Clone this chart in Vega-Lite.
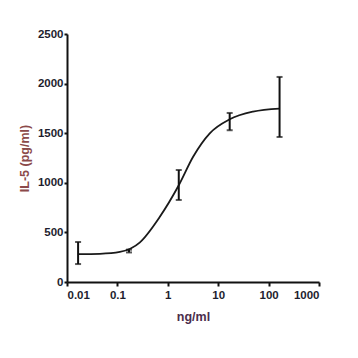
{
  "$schema": "https://vega.github.io/schema/vega-lite/v6.json",
  "width": 252,
  "height": 248,
  "autosize": {"type": "none"},
  "padding": {"left": 67, "top": 34, "right": 39, "bottom": 76},
  "background": "white",
  "datasets": {
    "points": [
      {"conc": 0.0166, "mean": 278, "lo": 181, "hi": 403},
      {"conc": 0.17, "mean": 312, "lo": 298, "hi": 326},
      {"conc": 1.65, "mean": 978, "lo": 827, "hi": 1129},
      {"conc": 16.9, "mean": 1633, "lo": 1530, "hi": 1704},
      {"conc": 165, "mean": 1748, "lo": 1462, "hi": 2067}
    ],
    "curve": [
      {"conc": 0.0166, "fit": 280},
      {"conc": 0.045, "fit": 284},
      {"conc": 0.112, "fit": 303},
      {"conc": 0.28, "fit": 400},
      {"conc": 0.69, "fit": 655},
      {"conc": 1.65, "fit": 975},
      {"conc": 3.18, "fit": 1263},
      {"conc": 6.8, "fit": 1499},
      {"conc": 16.9, "fit": 1640},
      {"conc": 49, "fit": 1717},
      {"conc": 165, "fit": 1748}
    ]
  },
  "layer": [
    {
      "data": {"name": "curve"},
      "mark": {"type": "line", "color": "#1a1a1a", "strokeWidth": 1.8, "interpolate": "monotone"},
      "encoding": {
        "x": {
          "field": "conc", "type": "quantitative",
          "scale": {"type": "log", "domain": [0.01, 1000], "nice": false},
          "axis": {
            "title": "ng/ml", "values": [0.01, 0.1, 1, 10, 100, 1000],
            "labelExpr": "datum.value >= 1 ? format(datum.value, 'd') : format(datum.value, '')",
            "grid": false, "domainColor": "#111", "domainWidth": 2, "tickColor": "#111", "tickWidth": 2, "tickSize": 4,
            "labelFont": "Liberation Sans", "labelFontWeight": "bold", "labelFontSize": 11.5, "labelColor": "#1e1e2e", "labelPadding": 3,
            "titleFont": "Liberation Sans", "titleFontWeight": "bold", "titleFontSize": 12.5, "titleColor": "#4b2d4b", "titlePadding": 10
          }
        },
        "y": {
          "field": "fit", "type": "quantitative",
          "scale": {"domain": [0, 2500], "nice": false},
          "axis": {
            "title": "IL-5 (pg/ml)", "values": [0, 500, 1000, 1500, 2000, 2500], "format": "d",
            "grid": false, "domainColor": "#111", "domainWidth": 2, "tickColor": "#111", "tickWidth": 2, "tickSize": 3,
            "labelFont": "Liberation Sans", "labelFontWeight": "bold", "labelFontSize": 11.5, "labelColor": "#1e1e2e", "labelPadding": 1,
            "titleFont": "Liberation Sans", "titleFontWeight": "bold", "titleFontSize": 12.5, "titleColor": "#8b4a4a", "titlePadding": 6
          }
        }
      }
    },
    {
      "data": {"name": "points"},
      "mark": {"type": "rule", "color": "#111", "strokeWidth": 2},
      "encoding": {
        "x": {"field": "conc", "type": "quantitative"},
        "y": {"field": "lo", "type": "quantitative"},
        "y2": {"field": "hi"}
      }
    },
    {
      "data": {"name": "points"},
      "mark": {"type": "tick", "color": "#111", "thickness": 2, "size": 6, "orient": "horizontal"},
      "encoding": {
        "x": {"field": "conc", "type": "quantitative"},
        "y": {"field": "lo", "type": "quantitative"}
      }
    },
    {
      "data": {"name": "points"},
      "mark": {"type": "tick", "color": "#111", "thickness": 2, "size": 6, "orient": "horizontal"},
      "encoding": {
        "x": {"field": "conc", "type": "quantitative"},
        "y": {"field": "hi", "type": "quantitative"}
      }
    }
  ],
  "config": {"view": {"stroke": null}}
}
